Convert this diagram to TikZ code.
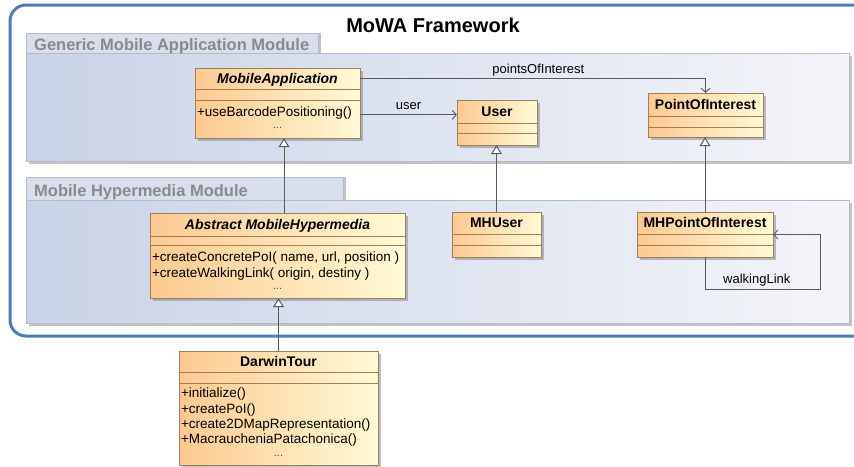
\documentclass[tikz,border=0pt]{standalone}
\usepackage{fontspec}
\setmainfont{Liberation Sans}
\usepackage{xcolor}
\usetikzlibrary{positioning,calc,shadows,arrows.meta}

\definecolor{frameblue}{HTML}{4A7EBB}
\definecolor{modleft}{HTML}{C9D3E7}
\definecolor{modright}{HTML}{F4F5F9}
\definecolor{modedge}{HTML}{B4BCCC}
\definecolor{tabfill}{HTML}{D8DEEB}
\definecolor{tabtext}{HTML}{8A8A8A}
\definecolor{clsleft}{HTML}{FCC990}
\definecolor{clsright}{HTML}{FFFAD6}
\definecolor{clsedge}{HTML}{A27E5A}
\definecolor{linkgray}{HTML}{5A5A5A}

\begin{document}
\begin{tikzpicture}[x=1pt, y=-1pt,
    frame/.style={draw=frameblue, line width=3pt, rounded corners=16pt},
    modbody/.style={rectangle, draw=modedge, left color=modleft, right color=modright, inner sep=0pt, anchor=north west,
        drop shadow={shadow xshift=3pt, shadow yshift=-3pt, fill=black!40, opacity=0.6}},
    modtab/.style={rectangle, draw=modedge, fill=tabfill, inner sep=0pt, anchor=south west,
        drop shadow={shadow xshift=3pt, shadow yshift=0pt, fill=black!40, opacity=0.6}},
    modlabel/.style={text=tabtext, font=\fontsize{16.5}{18}\selectfont\bfseries, anchor=base west, inner sep=0pt},
    classbox/.style={rectangle, draw=clsedge, left color=clsleft, right color=clsright, inner sep=0pt,
        drop shadow={shadow xshift=3pt, shadow yshift=-3pt, fill=black!50, opacity=0.5}},
    clsline/.style={draw=clsedge},
    clstitle/.style={font=\fontsize{14}{16}\selectfont\bfseries, anchor=base, inner sep=0pt},
    ops/.style={font=\fontsize{13.5}{15.3}\selectfont, align=left, anchor=north west, inner sep=0pt},
    dots/.style={font=\fontsize{11}{12}\selectfont, text=black!70, anchor=base, inner sep=0pt},
    assoc/.style={draw=linkgray, line width=0.9pt, -{Straight Barb[length=4pt, width=9pt]}},
    gener/.style={draw=linkgray, line width=1pt, -{Triangle[open, length=9pt, width=11pt, fill=white]}},
    lbl/.style={font=\fontsize{13}{15}\selectfont, text depth=0pt}
]
    \useasboundingbox (0,0) rectangle (854,466);

    % Framework
    \draw[frame] (10,5) rectangle (880,336);
    \node[font=\fontsize{20}{22}\selectfont\bfseries, anchor=base] (fwtitle) at (433,32) {MoWA Framework};

    % Modules
    \node[modbody, minimum width=823pt, minimum height=108pt] (genmod) at (26,53) {};
    \node[modtab, minimum width=292pt, minimum height=20pt] (gentab) at (genmod.north west) {};
    \node[modlabel] (genlabel) at ($(genmod.north west)+(8,-3)$) {Generic Mobile Application Module};

    \node[modbody, minimum width=823pt, minimum height=123pt] (hypmod) at (26,200) {};
    \node[modtab, minimum width=317pt, minimum height=23pt] (hyptab) at (hypmod.north west) {};
    \node[modlabel] (hyplabel) at ($(hypmod.north west)+(8,-4)$) {Mobile Hypermedia Module};

    % MobileApplication
    \node[classbox, minimum width=165pt, minimum height=70pt] (mobapp) at (277.5,103) {};
    \draw[clsline] ($(mobapp.north west)+(0,21)$) -- ($(mobapp.north east)+(0,21)$);
    \draw[clsline] ($(mobapp.north west)+(0,32)$) -- ($(mobapp.north east)+(0,32)$);
    \node[clstitle] (mobapp-t) at ($(mobapp.north)+(0,15.5)$) {\itshape MobileApplication};
    \node[ops] (mobapp-o) at ($(mobapp.north west)+(2,39)$) {+useBarcodePositioning()};
    \node[dots] (mobapp-d) at ($(mobapp.south)+(0,-10)$) {...};

    % User
    \node[classbox, minimum width=80pt, minimum height=45pt] (user) at (497,122.5) {};
    \draw[clsline] ($(user.north west)+(0,23)$) -- ($(user.north east)+(0,23)$);
    \draw[clsline] ($(user.north west)+(0,33)$) -- ($(user.north east)+(0,33)$);
    \node[clstitle] (user-t) at ($(user.north)+(0,16.5)$) {User};

    % PointOfInterest
    \node[classbox, minimum width=115pt, minimum height=44pt] (poi) at (705.5,115) {};
    \draw[clsline] ($(poi.north west)+(0,23)$) -- ($(poi.north east)+(0,23)$);
    \draw[clsline] ($(poi.north west)+(0,34)$) -- ($(poi.north east)+(0,34)$);
    \node[clstitle] (poi-t) at ($(poi.north)+(0,16.5)$) {PointOfInterest};

    % AbstractMobileHypermedia
    \node[classbox, minimum width=255pt, minimum height=85pt] (absmh) at (277.5,255.5) {};
    \draw[clsline] ($(absmh.north west)+(0,23)$) -- ($(absmh.north east)+(0,23)$);
    \draw[clsline] ($(absmh.north west)+(0,32)$) -- ($(absmh.north east)+(0,32)$);
    \node[clstitle] (absmh-t) at ($(absmh.north)+(0,16.5)$) {\itshape Abstract MobileHypermedia};
    \node[ops] (absmh-o) at ($(absmh.north west)+(2,39)$) {+createConcretePoI( name, url, position )\\+createWalkingLink( origin, destiny )};
    \node[dots] (absmh-d) at ($(absmh.south)+(0,-9)$) {...};

    % MHUser
    \node[classbox, minimum width=89pt, minimum height=45pt] (mhuser) at (496.5,234.5) {};
    \draw[clsline] ($(mhuser.north west)+(0,22)$) -- ($(mhuser.north east)+(0,22)$);
    \draw[clsline] ($(mhuser.north west)+(0,33)$) -- ($(mhuser.north east)+(0,33)$);
    \node[clstitle] (mhuser-t) at ($(mhuser.north)+(0,16)$) {MHUser};

    % MHPointOfInterest
    \node[classbox, minimum width=136pt, minimum height=45pt] (mhpoi) at (705,234.5) {};
    \draw[clsline] ($(mhpoi.north west)+(0,22)$) -- ($(mhpoi.north east)+(0,22)$);
    \draw[clsline] ($(mhpoi.north west)+(0,33)$) -- ($(mhpoi.north east)+(0,33)$);
    \node[clstitle] (mhpoi-t) at ($(mhpoi.north)+(0,16)$) {MHPointOfInterest};

    % DarwinTour
    \node[classbox, minimum width=199pt, minimum height=114pt] (darwin) at (278.5,408) {};
    \draw[clsline] ($(darwin.north west)+(0,21)$) -- ($(darwin.north east)+(0,21)$);
    \draw[clsline] ($(darwin.north west)+(0,32)$) -- ($(darwin.north east)+(0,32)$);
    \node[clstitle] (darwin-t) at ($(darwin.north)+(0,15.5)$) {DarwinTour};
    \node[ops] (darwin-o) at ($(darwin.north west)+(2,37)$) {+initialize()\\+createPoI()\\+create2DMapRepresentation()\\+MacraucheniaPatachonica()};
    \node[dots] (darwin-d) at ($(darwin.south)+(0,-9)$) {...};

    % Associations
    \draw[assoc] ($(mobapp.north east)+(0,11)$) -| (poi.north)
        node[lbl, above=2pt, pos=0.258] {pointsOfInterest};
    \draw[assoc] ($(mobapp.north east)+(0,47)$) -- ($(user.north west)+(0,15)$)
        node[lbl, above=2pt, midway] {user};
    \draw[assoc] (mhpoi.south) -- ++(0,32) -| ($(mhpoi.east)+(47,0)$)
        node[lbl, above=2pt, pos=0.225] {walkingLink} -- (mhpoi.east);

    % Generalizations
    \draw[gener] ($(absmh.north)+(6.5,0)$) -- ($(mobapp.south)+(6.5,0)$);
    \draw[gener] (mhuser.north) -- (mhuser.north |- user.south);
    \draw[gener] (mhpoi.north) -- (mhpoi.north |- poi.south);
    \draw[gener] (darwin.north) -- (darwin.north |- absmh.south);

\end{tikzpicture}
\end{document}
